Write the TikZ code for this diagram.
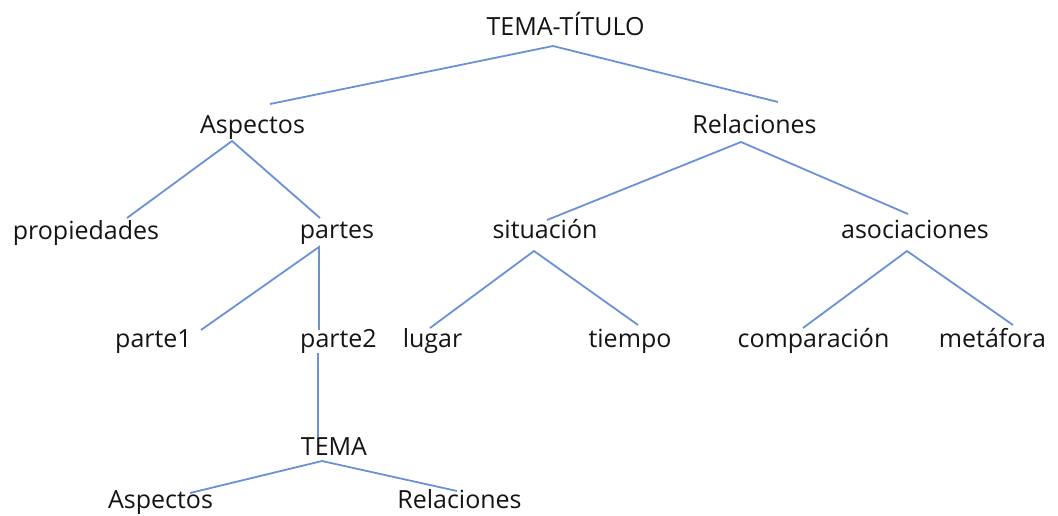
\documentclass[tikz,border=0pt]{standalone}
\usepackage{fontspec}
\setmainfont{Open Sans}
\usetikzlibrary{calc}
\definecolor{linkblue}{RGB}{106,145,216}
\definecolor{txt}{RGB}{20,20,20}
\begin{document}
\begin{tikzpicture}[x=1pt,y=-1pt,
  lbl/.style={anchor=base,inner sep=0pt,text=txt,font=\fontsize{25}{30}\selectfont},
  link/.style={draw=linkblue,line width=1.8pt}]
\path[use as bounding box] (0,0) rectangle (1058,515);
% nodes
\node[lbl] (tt)   at (565.5,35)  {TEMA-TÍTULO};
\node[lbl] (asp)  at (252.5,133) {Aspectos};
\node[lbl] (rel)  at (754.5,133) {Relaciones};
\node[lbl] (prop) at (86,239)    {propiedades};
\node[lbl] (par)  at (337,238)   {partes};
\node[lbl] (sit)  at (545,238)   {situación};
\node[lbl] (aso)  at (915,238)   {asociaciones};
\node[lbl] (pa)   at (153.5,347) {parte1};
\node[lbl] (pb)   at (338.5,347) {parte2};
\node[lbl] (lug)  at (432.5,347) {lugar};
\node[lbl] (tie)  at (630,347)   {tiempo};
\node[lbl] (com)  at (813.5,347) {comparación};
\node[lbl] (met)  at (992.5,347) {metáfora};
\node[lbl] (tema) at (334,455)   {TEMA};
\node[lbl] (aspb) at (160.5,508) {Aspectos};
\node[lbl] (relb) at (459.5,508) {Relaciones};
% connectors
\draw[link] ($(asp.base)+(17.5,-29)$) -- ($(tt.base)+(-12.5,11)$) -- ($(rel.base)+(23.5,-31)$);
\draw[link] ($(prop.base)+(41,-21)$) -- ($(asp.base)+(-20.5,8)$) -- ($(par.base)+(-17,-20)$);
\draw[link] ($(sit.base)+(2,-18)$) -- ($(rel.base)+(-13.5,9)$) -- ($(aso.base)+(-7,-24)$);
\draw[link] ($(pa.base)+(47.5,-17)$) -- ($(par.base)+(-18,9)$) -- ($(pb.base)+(-19.5,-17)$);
\draw[link] ($(lug.base)+(-2.5,-19)$) -- ($(sit.base)+(-11,13)$) -- ($(tie.base)+(8,-22)$);
\draw[link] ($(com.base)+(-10.5,-19)$) -- ($(aso.base)+(-8,13)$) -- ($(met.base)+(20.5,-22)$);
\draw[link] ($(pb.base)+(-20.5,6)$) -- ($(tema.base)+(-16,-18)$);
\draw[link] ($(aspb.base)+(29.5,-15)$) -- ($(tema.base)+(-12,6)$) -- ($(relb.base)+(-2.5,-17)$);
\end{tikzpicture}
\end{document}
